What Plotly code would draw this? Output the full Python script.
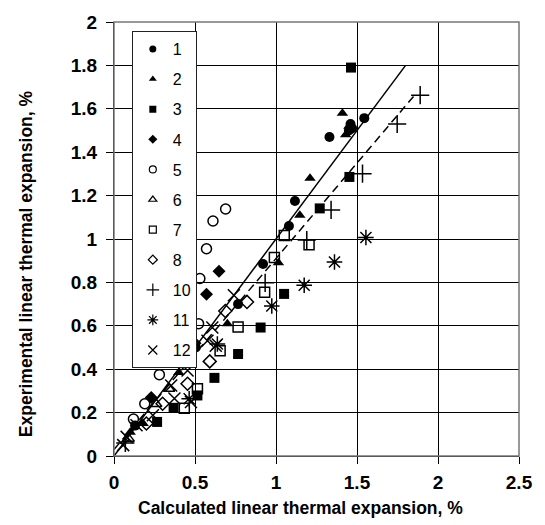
import plotly.graph_objects as go

# ---- data ----
s1_x = [1.545, 1.46, 1.47, 1.45, 1.33, 1.117, 1.08, 0.92, 0.766, 0.505, 0.13]
s1_y = [1.557, 1.53, 1.51, 1.50, 1.47, 1.175, 1.06, 0.885, 0.70, 0.50, 0.14]
s2_x = [1.41, 1.43, 1.45, 1.21, 1.147, 1.015, 0.70, 0.40, 0.18, 0.10]
s2_y = [1.58, 1.48, 1.52, 1.28, 1.11, 0.89, 0.61, 0.385, 0.15, 0.11]
s3_x = [1.463, 1.453, 1.27, 1.05, 0.905, 0.766, 0.62, 0.515, 0.368, 0.266]
s3_y = [1.79, 1.286, 1.141, 0.747, 0.592, 0.47, 0.36, 0.279, 0.222, 0.157]
s4_x = [0.648, 0.571, 0.23, 0.50]
s4_y = [0.851, 0.745, 0.27, 0.52]
s5_x = [0.689, 0.611, 0.571, 0.53, 0.522, 0.41, 0.28, 0.19, 0.12]
s5_y = [1.138, 1.083, 0.955, 0.818, 0.61, 0.47, 0.375, 0.241, 0.17]
s6_x = [0.45, 0.34, 0.26, 0.09]
s6_y = [0.42, 0.31, 0.24, 0.08]
s7_x = [1.051, 0.99, 1.204, 0.93, 0.766, 0.655, 0.515, 0.434]
s7_y = [1.016, 0.915, 0.973, 0.755, 0.595, 0.485, 0.31, 0.22]
s8_x = [0.821, 0.687, 0.591, 0.454, 0.30, 0.20]
s8_y = [0.71, 0.668, 0.436, 0.333, 0.241, 0.15]
s10_x = [1.89, 1.748, 1.534, 1.34, 1.19, 0.933, 0.07]
s10_y = [1.663, 1.53, 1.301, 1.134, 0.995, 0.798, 0.06]
s11_x = [1.555, 1.361, 1.174, 0.974, 0.638, 0.464]
s11_y = [1.007, 0.894, 0.787, 0.691, 0.516, 0.264]
s12_x = [0.74, 0.607, 0.577, 0.444, 0.628, 0.454, 0.353, 0.373, 0.475, 0.24, 0.139, 0.078, 0.057]
s12_y = [0.741, 0.592, 0.531, 0.508, 0.508, 0.394, 0.325, 0.265, 0.249, 0.188, 0.142, 0.088, 0.05]

fit_solid_x = [0, 1.8]
fit_solid_y = [0, 1.8]
fit_dash_x = [0, 1.85]
fit_dash_y = [0.03, 1.658]

x_title = "Calculated linear thermal expansion, %"
y_title = "Experimental linear thermal expansion, %"

series = [
    ("1", s1_x, s1_y, "circle", 10, 0),
    ("2", s2_x, s2_y, "triangle-up", 10, 0),
    ("3", s3_x, s3_y, "square", 10, 0),
    ("4", s4_x, s4_y, "diamond", 10, 0),
    ("5", s5_x, s5_y, "circle-open", 10, 1.5),
    ("6", s6_x, s6_y, "triangle-up-open", 10, 1.5),
    ("7", s7_x, s7_y, "square-open", 10, 1.5),
    ("8", s8_x, s8_y, "diamond-open", 10, 1.5),
    ("10", s10_x, s10_y, "cross-thin-open", 13, 1.5),
    ("11", s11_x, s11_y, "asterisk-open", 13, 1.5),
    ("12", s12_x, s12_y, "x-thin-open", 12, 1.5),
]

FONT = "Arial, Liberation Sans, sans-serif"
fig = go.Figure()

fig.add_trace(go.Scatter(x=fit_solid_x, y=fit_solid_y, mode="lines",
                         line=dict(color="black", width=1.5), showlegend=False))
fig.add_trace(go.Scatter(x=fit_dash_x, y=fit_dash_y, mode="lines",
                         line=dict(color="black", width=1.5, dash="8px,5px"), showlegend=False))

for name, xs, ys, sym, size, lw in series:
    fig.add_trace(go.Scatter(
        x=xs, y=ys, mode="markers", name=name, showlegend=False,
        marker=dict(symbol=sym, size=size, color="black",
                    line=dict(color="black", width=lw)),
        cliponaxis=False))
    # legend entry with smaller marker
    fig.add_trace(go.Scatter(
        x=[None], y=[None], mode="markers", name=name, legendgroup=name,
        marker=dict(symbol=sym, size=7 if size <= 10 else 9, color="black",
                    line=dict(color="black", width=1.2 if lw else 0))))

fig.update_layout(
    width=545, height=525,
    margin=dict(l=114, r=22, t=19, b=69),
    paper_bgcolor="white", plot_bgcolor="white",
    font=dict(family=FONT, color="black"),
    showlegend=True,
    legend=dict(x=0.044, y=0.979, xanchor="left", yanchor="top",
                bordercolor="#222", borderwidth=1, bgcolor="white",
                font=dict(size=16, family=FONT),
                traceorder="grouped", tracegroupgap=6.3,
                itemwidth=30),
    xaxis=dict(range=[0, 2.5], dtick=0.5, tick0=0,
               showgrid=True, gridcolor="black", gridwidth=1,
               showline=True, linecolor="black", linewidth=1,
               ticks="outside", ticklen=7, tickcolor="black",
               zeroline=False, ticklabelstandoff=2,
               tickfont=dict(size=19, family=FONT, weight="bold")),
    yaxis=dict(range=[0, 2], dtick=0.2, tick0=0,
               showgrid=True, gridcolor="black", gridwidth=1,
               showline=True, linecolor="black", linewidth=1,
               ticks="outside", ticklen=7, tickcolor="black",
               zeroline=False, ticklabelstandoff=5,
               tickfont=dict(size=19, family=FONT, weight="bold")),
    annotations=[
        dict(text="<b>" + x_title + "</b>", xref="paper", yref="paper",
             x=0.46, y=-0.119, xanchor="center", yanchor="middle",
             showarrow=False, font=dict(size=17.5, family=FONT)),
        dict(text="<b>" + y_title + "</b>", xref="paper", yref="paper",
             x=-0.2176, y=0.444, xanchor="center", yanchor="middle",
             textangle=-90, showarrow=False, font=dict(size=17.5, family=FONT)),
    ],
    shapes=[dict(type="rect", xref="paper", yref="paper", x0=0, y0=0, x1=1, y1=1,
                 line=dict(color="#777", width=1.5), layer="above")],
)

fig.write_html("out.html")
